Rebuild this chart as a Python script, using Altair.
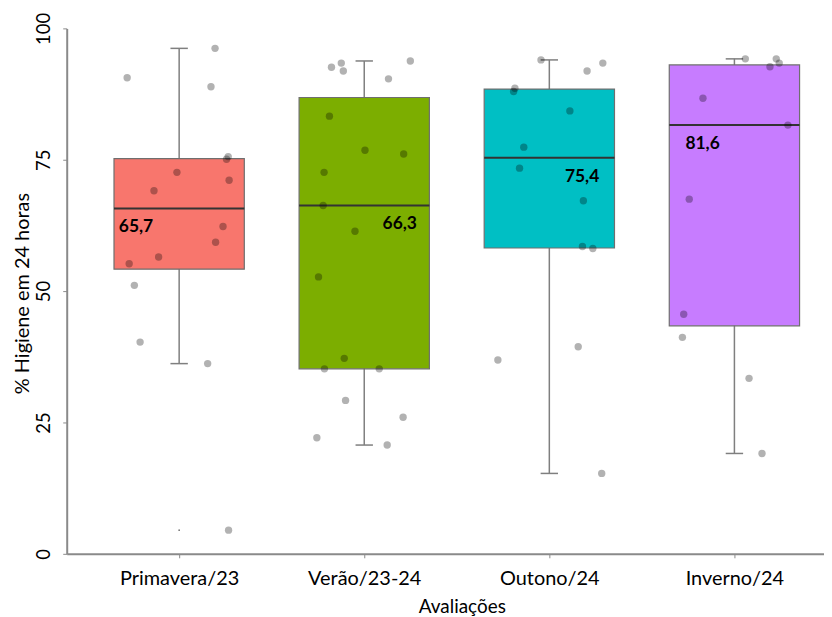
import json
import numpy as np
import pandas as pd
import altair as alt

categories = ["Primavera/23", "Verão/23-24", "Outono/24", "Inverno/24"]
colors = ["#F8766D", "#7CAE00", "#00BFC4", "#C77CFF"]

prim_values = [90.6, 96.2, 88.9, 75.6, 75.1, 72.6, 71.1, 69.1, 62.3, 59.3, 56.5, 55.2, 51.1, 40.3, 36.2, 4.5]
prim_jitter = [-0.281, 0.194, 0.172, 0.265, 0.256, -0.012, 0.270, -0.136, 0.237, 0.197, -0.111, -0.270, -0.242, -0.211, 0.154, 0.267]

ver_values = [92.6, 93.4, 91.9, 90.4, 93.8, 83.3, 76.8, 76.1, 72.6, 66.3, 61.4, 52.7, 37.2, 35.2, 35.2, 29.2, 26.0, 22.1, 20.7]
ver_jitter = [-0.177, -0.124, -0.113, 0.131, 0.249, -0.188, 0.004, 0.213, -0.217, -0.222, -0.050, -0.247, -0.108, -0.215, 0.081, -0.101, 0.210, -0.256, 0.124]

out_values = [94.0, 91.9, 93.4, 88.6, 88.0, 84.3, 77.4, 73.4, 67.2, 58.5, 58.1, 36.9, 39.4, 15.3]
out_jitter = [-0.045, 0.204, 0.289, -0.186, -0.193, 0.111, -0.138, -0.161, 0.184, 0.179, 0.235, -0.278, 0.156, 0.283]

inv_values = [94.2, 94.2, 93.4, 92.7, 86.7, 81.6, 67.5, 45.6, 41.2, 33.4, 19.1]
inv_jitter = [0.059, 0.226, 0.242, 0.192, -0.170, 0.289, -0.244, -0.274, -0.281, 0.079, 0.149]

label_offsets = [-0.233, 0.192, 0.177, -0.172]

all_values = [prim_values, ver_values, out_values, inv_values]
all_jitter = [prim_jitter, ver_jitter, out_jitter, inv_jitter]

rows = []
box_rows = []
out_rows = []
for i, (cat, vals, jit) in enumerate(zip(categories, all_values, all_jitter)):
    idx = i + 1
    for v, j in zip(vals, jit):
        rows.append({"cat": cat, "idx": idx, "value": v, "jit": j})
    arr = np.array(vals)
    q1, med, q3 = np.percentile(arr, [25, 50, 75])
    iqr = q3 - q1
    lo_f, hi_f = q1 - 1.5 * iqr, q3 + 1.5 * iqr
    inside = arr[(arr >= lo_f) & (arr <= hi_f)]
    box_rows.append({"cat": cat, "idx": idx, "q1": q1, "med": med, "q3": q3,
                     "lo": inside.min(), "hi": inside.max(), "loff": label_offsets[i]})
    for v in arr[(arr < lo_f) | (arr > hi_f)]:
        out_rows.append({"cat": cat, "idx": idx, "value": float(v)})

pts = pd.DataFrame(rows)
box = pd.DataFrame(box_rows)
outl = pd.DataFrame(out_rows)

FONT = "Lato"
xscale = alt.Scale(domain=[0.3925, 4.484], nice=False, zero=False)
yscale = alt.Scale(domain=[0, 100], nice=False)
color_scale = alt.Scale(domain=categories, range=colors)

label_expr = json.dumps(categories) + "[datum.value - 1]"

x_axis = alt.Axis(values=[1, 2, 3, 4], labelExpr=label_expr, title="Avaliações",
                  grid=False, domainColor="#8a8a8a", domainWidth=2, tickColor="#8a8a8a",
                  tickSize=4, labelFont=FONT, labelFontSize=20, labelColor="#000000",
                  labelPadding=11, titleFont=FONT, titleFontSize=19, titleFontWeight="normal",
                  titleColor="#000000", titleX=397, titleY=53, titleBaseline="middle",
                  titleAlign="center")
y_axis = alt.Axis(values=[0, 25, 50, 75, 100], title="% Higiene em 24 horas",
                  grid=False, domainColor="#8a8a8a", domainWidth=2, tickColor="#8a8a8a",
                  tickSize=4, labelFont=FONT, labelFontSize=18.5, labelColor="#000000",
                  labelAngle=270, labelAlign="center", labelBaseline="alphabetic",
                  labelPadding=13, titleFont=FONT, titleFontSize=20, titleFontWeight="normal",
                  titleColor="#000000", titleAngle=270, titleX=-44, titleY=266,
                  titleBaseline="middle", titleAlign="center")


def X(field):
    return alt.X(field, scale=xscale, axis=x_axis, title="Avaliações")


def Y(field):
    return alt.Y(field, scale=yscale, axis=y_axis, title="% Higiene em 24 horas")


base_box = alt.Chart(box)

whisker = base_box.mark_rule(color="#7f7f7f", strokeWidth=1.5).encode(
    x=X("idx:Q"),
    y=Y("lo:Q"),
    y2="hi:Q",
)

caps = base_box.transform_fold(["lo", "hi"], as_=["end", "endval"]).transform_calculate(
    xa="datum.idx - 0.047", xb="datum.idx + 0.047"
).mark_rule(color="#7f7f7f", strokeWidth=1.5).encode(
    x=X("xa:Q"),
    x2="xb:Q",
    y=Y("endval:Q"),
)

boxes = base_box.transform_calculate(
    xa="datum.idx - 0.352", xb="datum.idx + 0.352"
).mark_bar(stroke="#6f6f6f", strokeWidth=1.2).encode(
    x=X("xa:Q"),
    x2="xb:Q",
    y=Y("q1:Q"),
    y2="q3:Q",
    fill=alt.Fill("cat:N", scale=color_scale, legend=None),
)

medians = base_box.transform_calculate(
    xa="datum.idx - 0.352", xb="datum.idx + 0.352"
).mark_rule(color="#333333", strokeWidth=2).encode(
    x=X("xa:Q"),
    x2="xb:Q",
    y=Y("med:Q"),
)

outliers = alt.Chart(outl).mark_circle(size=3, color="#555555", opacity=0.8).encode(
    x=X("idx:Q"),
    y=Y("value:Q"),
)

points = alt.Chart(pts).transform_calculate(
    xp="datum.idx + datum.jit"
).mark_circle(size=55, color="#000000", opacity=0.3).encode(
    x=X("xp:Q"),
    y=Y("value:Q"),
)

labels = base_box.transform_calculate(
    xl="datum.idx + datum.loff",
    txt="replace(format(datum.med, '.1f'), '.', ',')",
).mark_text(font=FONT, fontSize=17.5, fontWeight="bold", color="#000000",
            baseline="middle", dy=19).encode(
    x=X("xl:Q"),
    y=Y("med:Q"),
    text="txt:N",
)

chart = alt.layer(whisker, caps, boxes, medians, outliers, points, labels).properties(
    width=761, height=528,
    autosize=alt.AutoSizeParams(type="none"),
    padding={"left": 59, "top": 19, "right": 0, "bottom": 62},
    background="#ffffff",
).configure_view(stroke=None)

chart.save("out.html", embed_options={"renderer": "svg", "actions": False})
